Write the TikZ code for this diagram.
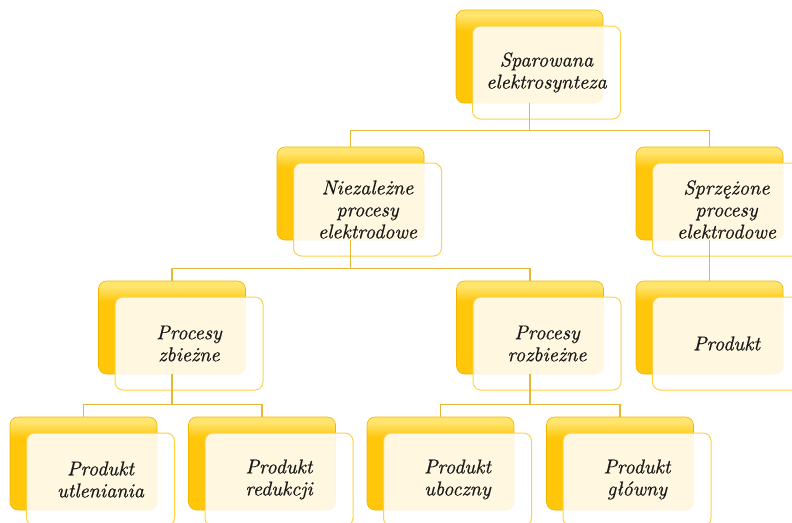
\documentclass[tikz,border=0pt]{standalone}
\usepackage{fontspec}
\usepackage{tikz}
\newfontfamily\cardfont{lmroman10-italic.otf}[FakeBold=0.6]
\definecolor{goldtop}{RGB}{255,228,110}
\definecolor{goldmid}{RGB}{255,198,10}
\definecolor{goldedge}{RGB}{242,180,0}
\definecolor{creamline}{RGB}{255,210,70}
\definecolor{linkgold}{RGB}{230,184,56}
\pgfdeclareverticalshading{goldcard}{100bp}{color(0bp)=(goldmid); color(25bp)=(goldmid);
	color(64bp)=(goldmid); color(72bp)=(goldtop); color(100bp)=(goldtop)}
\def\pageframe{(0,0) rectangle (792,522)}

\begin{document}
\begin{tikzpicture}[x=1pt, y=-1pt,
	backbox/.style={rounded corners=8pt, minimum width=147pt, minimum height=93pt,
		draw=goldedge, line width=0.6pt, shading=goldcard},
	frontbox/.style={rounded corners=8pt, minimum width=148pt, minimum height=93pt, inner sep=0pt,
		draw=creamline, line width=1pt, fill=white, fill opacity=0.87, text opacity=1,
		align=center, text=black!90, font=\cardfont\fontsize{20}{22}\selectfont},
	link/.style={draw=linkgold, line width=1.3pt}]
	\useasboundingbox \pageframe;
	\clip \pageframe;

	% level 1
	\node[backbox] (topB) at (529.5,56.5) {};
	\node[frontbox] (top) at ([shift={(17,16)}]topB.center) {Sparowana\\elektrosynteza};

	% level 2
	\node[backbox] (nieB) at (350.5,193.5) {};
	\node[frontbox] (nie) at ([shift={(17,16)}]nieB.center) {Niezależne\\procesy\\elektrodowe};
	\node[backbox] (sprB) at (709.5,193.5) {};
	\node[frontbox] (spr) at ([shift={(17,16)}]sprB.center) {Sprzężone\\procesy\\elektrodowe};

	% level 3
	\node[backbox] (zbiB) at (172,327.5) {};
	\node[frontbox] (zbi) at ([shift={(17,16)}]zbiB.center) {Procesy\\zbieżne};
	\node[backbox] (rozB) at (530,327.5) {};
	\node[frontbox] (roz) at ([shift={(17,16)}]rozB.center) {Procesy\\rozbieżne};
	\node[backbox] (proB) at (709.5,327.5) {};
	\node[frontbox] (pro) at ([shift={(17,16)}]proB.center) {Produkt};

	% level 4
	\node[backbox] (utlB) at (83.5,463.5) {};
	\node[frontbox] (utl) at ([shift={(17,16)}]utlB.center) {Produkt\\utleniania};
	\node[backbox] (redB) at (262,463.5) {};
	\node[frontbox] (red) at ([shift={(17,16)}]redB.center) {Produkt\\redukcji};
	\node[backbox] (ubB) at (440.5,463.5) {};
	\node[frontbox] (ub) at ([shift={(17,16)}]ubB.center) {Produkt\\uboczny};
	\node[backbox] (glB) at (620,463.5) {};
	\node[frontbox] (gl) at ([shift={(17,16)}]glB.center) {Produkt\\główny};

	\draw[link] (topB.south) -- ++(0,27) -| (nieB.north);
	\draw[link] (topB.south) -- ++(0,27) -| (sprB.north);
	\draw[link] (nieB.south) -- ++(0,28) -| (zbiB.north);
	\draw[link] (nieB.south) -- ++(0,28) -| (rozB.north);
	\draw[link] (sprB.south) -- (proB.north);
	\draw[link] (zbiB.south) -- ++(0,30) -| (utlB.north);
	\draw[link] (zbiB.south) -- ++(0,30) -| (redB.north);
	\draw[link] (rozB.south) -- ++(0,30) -| (ubB.north);
	\draw[link] (rozB.south) -- ++(0,30) -| (glB.north);
\end{tikzpicture}
\end{document}
